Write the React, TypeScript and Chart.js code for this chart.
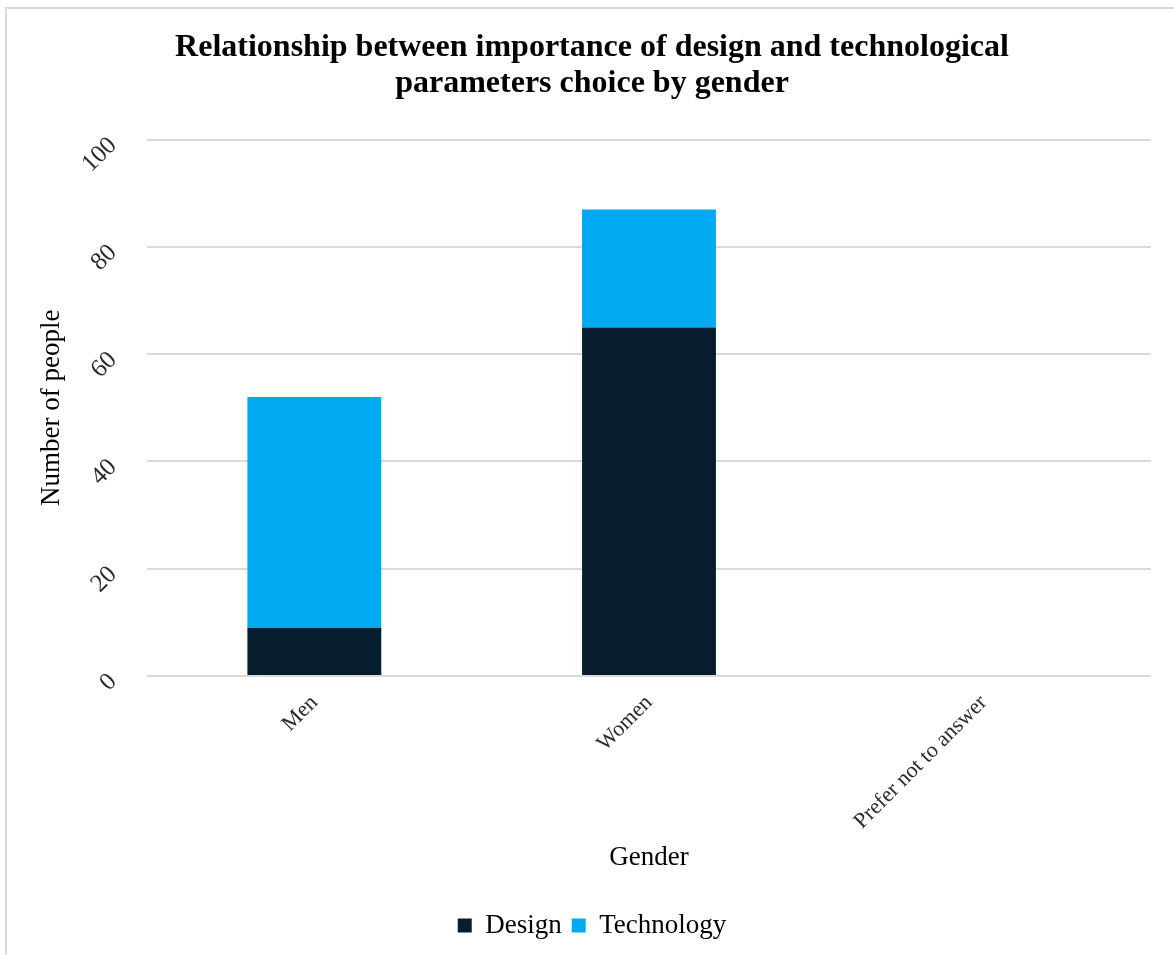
import React, { useEffect, useRef } from "react";
import { Chart, registerables } from "chart.js";

Chart.register(...registerables);

const categories = ["Men", "Women", "Prefer not to answer"];
const designValues = [9, 65, 0];
const technologyValues = [43, 22, 0];
const yTicks = [0, 20, 40, 60, 80, 100];
const titleLines = [
  "Relationship between importance of design and technological",
  "parameters choice by gender",
];

const FONT = "'Liberation Serif', 'Times New Roman', serif";

export default function App() {
  const canvasRef = useRef<HTMLCanvasElement | null>(null);

  useEffect(() => {
    const canvas = canvasRef.current;
    if (!canvas) return;
    const chart = new Chart(canvas, {
      type: "bar",
      data: {
        labels: categories,
        datasets: [
          {
            label: "Design",
            data: designValues,
            backgroundColor: "#071d2d",
            borderWidth: 0,
          },
          {
            label: "Technology",
            data: technologyValues,
            backgroundColor: "#00aaf2",
            borderWidth: 0,
          },
        ],
      },
      options: {
        responsive: false,
        animation: false,
        devicePixelRatio: 1,
        layout: { padding: { left: 33, right: 23, top: 0, bottom: 6 } },
        datasets: {
          bar: { categoryPercentage: 1, barPercentage: 0.4 },
        },
        plugins: {
          title: {
            display: true,
            text: titleLines,
            color: "#000",
            font: { family: FONT, size: 32, weight: "bold", lineHeight: 1.12 },
            padding: { top: 30, bottom: 38 },
          },
          legend: {
            position: "bottom",
            labels: {
              color: "#000",
              font: { family: FONT, size: 27 },
              boxWidth: 14,
              boxHeight: 14,
              padding: 10,
            },
          },
          tooltip: { enabled: false },
        },
        scales: {
          x: {
            stacked: true,
            grid: { display: false },
            border: { display: false },
            ticks: {
              color: "#2a2a2a",
              font: { family: FONT, size: 22 },
              minRotation: 45,
              maxRotation: 45,
              padding: 6,
            },
            title: {
              display: true,
              text: "Gender",
              color: "#000",
              font: { family: FONT, size: 27, lineHeight: 1.2 },
              padding: { top: 0, bottom: 28 },
            },
            afterFit: (scale: any) => {
              scale.height = 226;
            },
          },
          y: {
            stacked: true,
            min: 0,
            max: 100,
            afterBuildTicks: (scale: any) => {
              scale.ticks = yTicks.map((v) => ({ value: v }));
            },
            grid: { color: "#d9d9d9", lineWidth: 2, drawTicks: false },
            border: { display: false },
            ticks: {
              color: "#2a2a2a",
              font: { family: FONT, size: 25 },
              minRotation: 45,
              maxRotation: 45,
              padding: 34,
              labelOffset: 2,
            },
            title: {
              display: true,
              text: "Number of people",
              color: "#000",
              font: { family: FONT, size: 27, lineHeight: 1.2 },
              padding: { top: 3, bottom: 0 },
            },
            afterFit: (scale: any) => {
              scale.width = 114;
            },
          },
        },
      },
    });
    return () => chart.destroy();
  }, []);

  return (
    <div
      style={{
        position: "absolute",
        left: 0,
        top: 0,
        width: 1174,
        height: 955,
        overflow: "hidden",
        background: "#fff",
      }}
    >
      <div
        style={{
          position: "absolute",
          left: 5,
          top: 7,
          width: 1200,
          height: 1000,
          borderTop: "2px solid #d9d9d9",
          borderLeft: "2px solid #d9d9d9",
        }}
      />
      <canvas
        ref={canvasRef}
        width={1174}
        height={955}
        style={{ position: "absolute", left: 0, top: 0 }}
      />
    </div>
  );
}
